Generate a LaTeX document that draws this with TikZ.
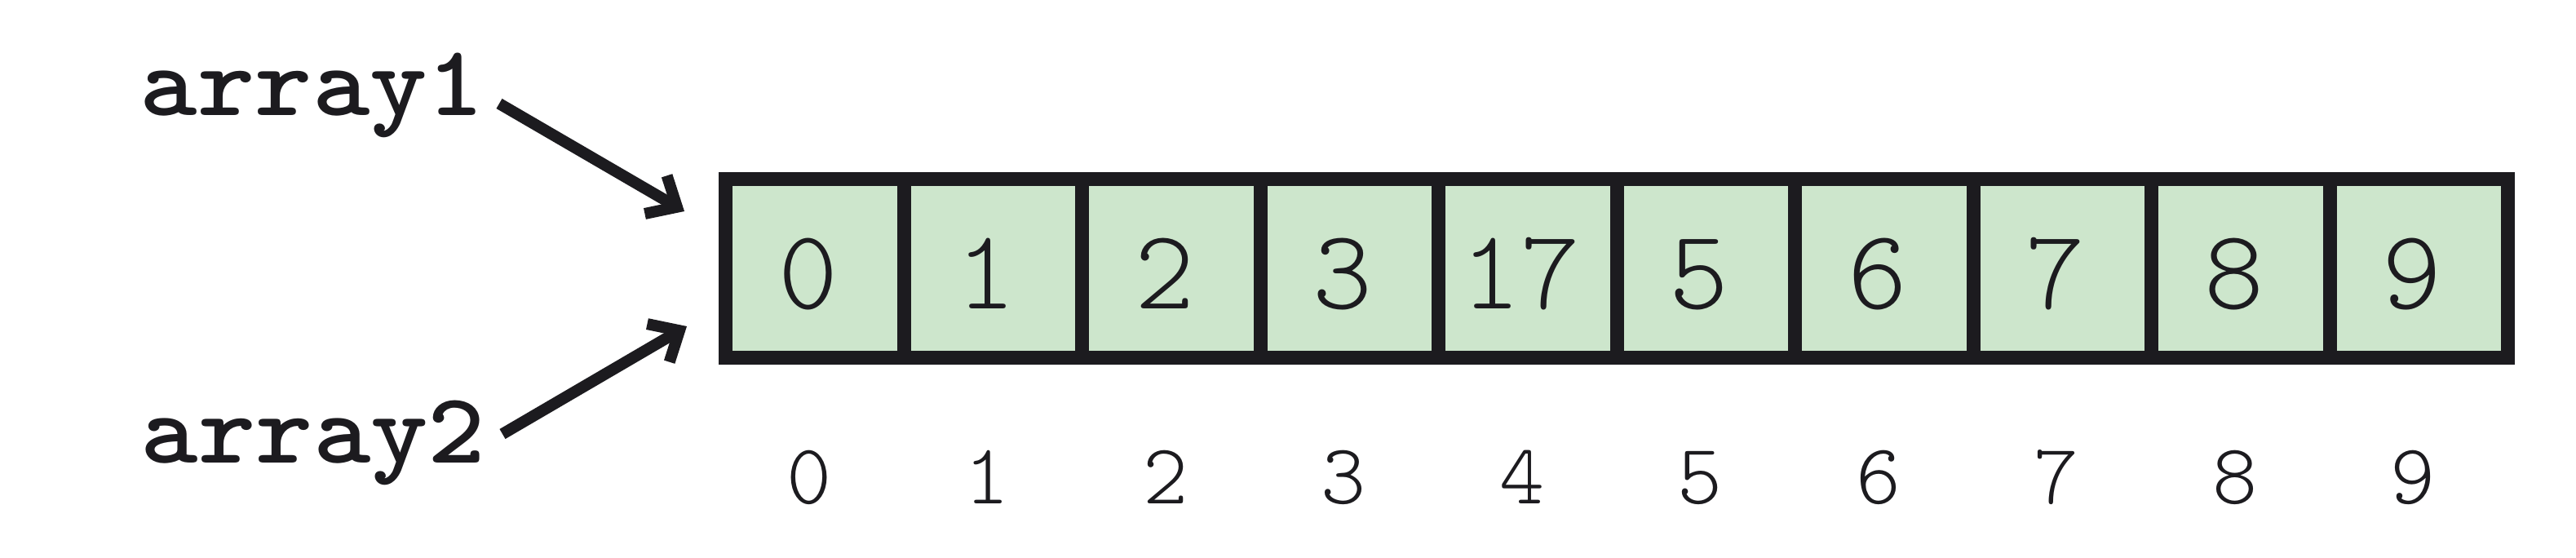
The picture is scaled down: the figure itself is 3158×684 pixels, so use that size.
\documentclass[tikz,border=0pt]{standalone}
\usepackage{fontspec}
\usetikzlibrary{arrows.meta}
\newfontfamily\lblfont{lmmonolt10-bold.otf}
\newfontfamily\numfont{lmmonolt10-regular.otf}
\definecolor{cellgreen}{RGB}{205,230,204}
\definecolor{ink}{RGB}{28,27,31}
\tikzset{
  cellbox/.style={draw=ink, fill=cellgreen, line width=17pt, minimum width=218.5pt, minimum height=219pt, inner sep=0pt, outer sep=0pt},
  valtext/.style={anchor=base, text=ink, inner sep=0pt, font=\numfont\fontsize{139}{139}\selectfont},
  idxtext/.style={anchor=base, text=ink, inner sep=0pt, font=\numfont\fontsize{105}{105}\selectfont},
  lbltext/.style={anchor=base, text=ink, inner sep=0pt, font=\lblfont\bfseries\fontsize{123}{123}\selectfont},
  ptr/.style={draw=ink, line width=14pt, -{Straight Barb[length=30pt, width=54pt, sharp]}}
}
\begin{document}
\begin{tikzpicture}[x=1pt, y=-1pt]
\useasboundingbox (0,0) rectangle (3158,684);
\foreach \v [count=\i from 0] in {0,1,2,3,17,5,6,7,8,9} {
  \node[cellbox] (c\i) at ({889.5+218.5*(\i+0.5)}, 329) {};
  \node[valtext] (v\i) at ({889.5+218.5*(\i+0.5)-8}, 378) {\v};
  \node[idxtext] (x\i) at ({889.5+218.5*(\i+0.5)-7}, 617) {\i};
}
\node[lbltext] (a1) at (383,142) {\scalebox{1.09}[1]{array1}};
\node[lbltext] (a2) at (384,567) {\scalebox{1.09}[1]{array2}};
\coordinate (t1) at (612,127);
\coordinate (h1) at (839,259);
\coordinate (t2) at (616,532);
\coordinate (h2) at (842,400);
\draw[ptr] (t1) -- (h1);
\draw[ptr] (t2) -- (h2);
\end{tikzpicture}
\end{document}
